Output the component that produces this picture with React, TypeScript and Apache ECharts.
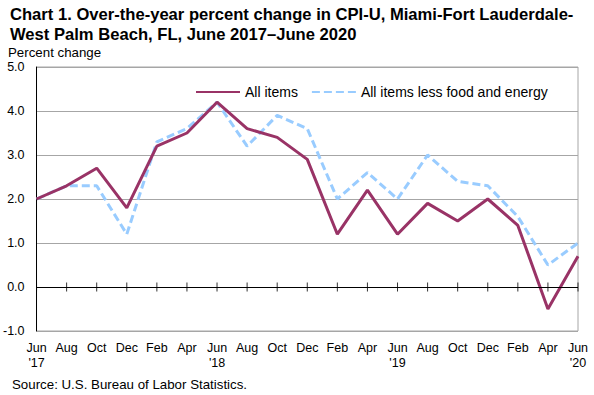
import React, { useEffect, useRef } from "react";
import * as echarts from "echarts";

const categories = [
  "Jun\n'17", "Aug", "Oct", "Dec", "Feb", "Apr",
  "Jun\n'18", "Aug", "Oct", "Dec", "Feb", "Apr",
  "Jun\n'19", "Aug", "Oct", "Dec", "Feb", "Apr",
  "Jun\n'20",
];
const allItems = [2.0, 2.3, 2.7, 1.8, 3.2, 3.5, 4.2, 3.6, 3.4, 2.9, 1.2, 2.2, 1.2, 1.9, 1.5, 2.0, 1.4, -0.5, 0.7];
const lessFoodEnergy = [2.0, 2.3, 2.3, 1.2, 3.3, 3.6, 4.2, 3.2, 3.9, 3.6, 2.0, 2.6, 2.0, 3.0, 2.4, 2.3, 1.6, 0.5, 1.0];
const zeroTicks = categories.map(() => 0);

const titleLines = [
  "Chart 1. Over-the-year percent change in CPI-U, Miami-Fort Lauderdale-",
  "West Palm Beach, FL, June 2017\u2013June 2020",
];
const yAxisName = "Percent change";
const sourceText = "Source: U.S. Bureau of Labor Statistics.";
const seriesNames = ["All items", "All items less food and energy"];

const FONT = "Arial, 'Liberation Sans', sans-serif";

export default function App() {
  const ref = useRef<HTMLDivElement>(null);
  useEffect(() => {
    if (!ref.current) return;
    const chart = echarts.init(ref.current, null, { renderer: "svg" });
    chart.setOption({
      animation: false,
      backgroundColor: "#ffffff",
      textStyle: { fontFamily: FONT, color: "#000" },
      graphic: [
        {
          type: "text",
          left: 10,
          top: 4,
          style: {
            text: titleLines.join("\n"),
            font: `bold 16.6px ${FONT}`,
            lineHeight: 20,
            fill: "#000",
          },
        },
        {
          type: "text",
          left: 8,
          top: 46,
          style: { text: yAxisName, font: `13.3px ${FONT}`, fill: "#000" },
        },
        {
          type: "text",
          left: 12,
          top: 378,
          style: { text: sourceText, font: `13.3px ${FONT}`, fill: "#000" },
        },
      ],
      legend: {
        left: 190,
        top: 80,
        itemWidth: 44,
        itemHeight: 14,
        itemGap: 13,
        data: seriesNames,
        itemStyle: { opacity: 0 },
        textStyle: { fontSize: 14, fontFamily: FONT, color: "#000" },
      },
      grid: {
        left: 36,
        right: 16,
        top: 67,
        bottom: 64,
        show: true,
        borderColor: "#a6a6a6",
        borderWidth: 1,
      },
      xAxis: {
        type: "category",
        data: categories,
        boundaryGap: false,
        axisLine: { show: false },
        axisTick: { show: false },
        splitLine: { show: false },
        axisLabel: {
          interval: 0,
          margin: 9,
          fontSize: 12.5,
          lineHeight: 15,
          fontFamily: FONT,
          color: "#000",
          align: "center",
          verticalAlign: "top",
        },
      },
      yAxis: {
        type: "value",
        min: -1,
        max: 5,
        interval: 1,
        axisLine: { show: true, lineStyle: { color: "#000", width: 1 } },
        axisTick: { show: false },
        axisLabel: {
          margin: 12,
          fontSize: 12.5,
          fontFamily: FONT,
          color: "#000",
          formatter: (v: number) => v.toFixed(1),
        },
        splitLine: { show: true, lineStyle: { color: "#a6a6a6", width: 1 } },
      },
      series: [
        {
          name: "zeroTicks",
          type: "scatter",
          data: zeroTicks,
          symbol: "rect",
          symbolSize: [1, 9],
          itemStyle: { color: "#000" },
          silent: true,
          z: 1,
          markLine: {
            silent: true,
            symbol: "none",
            label: { show: false },
            lineStyle: { color: "#000", width: 1, type: "solid" },
            data: [{ yAxis: 0 }],
          },
        },
        {
          name: seriesNames[0],
          type: "line",
          data: allItems,
          symbol: "none",
          showSymbol: false,
          z: 3,
          lineStyle: { color: "#993366", width: 3 },
          itemStyle: { color: "#993366" },
        },
        {
          name: seriesNames[1],
          type: "line",
          data: lessFoodEnergy,
          symbol: "none",
          showSymbol: false,
          z: 2,
          lineStyle: { color: "#99ccff", width: 3, type: [8, 4] },
          itemStyle: { color: "#99ccff" },
        },
      ],
    });
    return () => chart.dispose();
  }, []);
  return <div ref={ref} style={{ width: 594, height: 395, position: "absolute", left: 0, top: 0 }} />;
}
